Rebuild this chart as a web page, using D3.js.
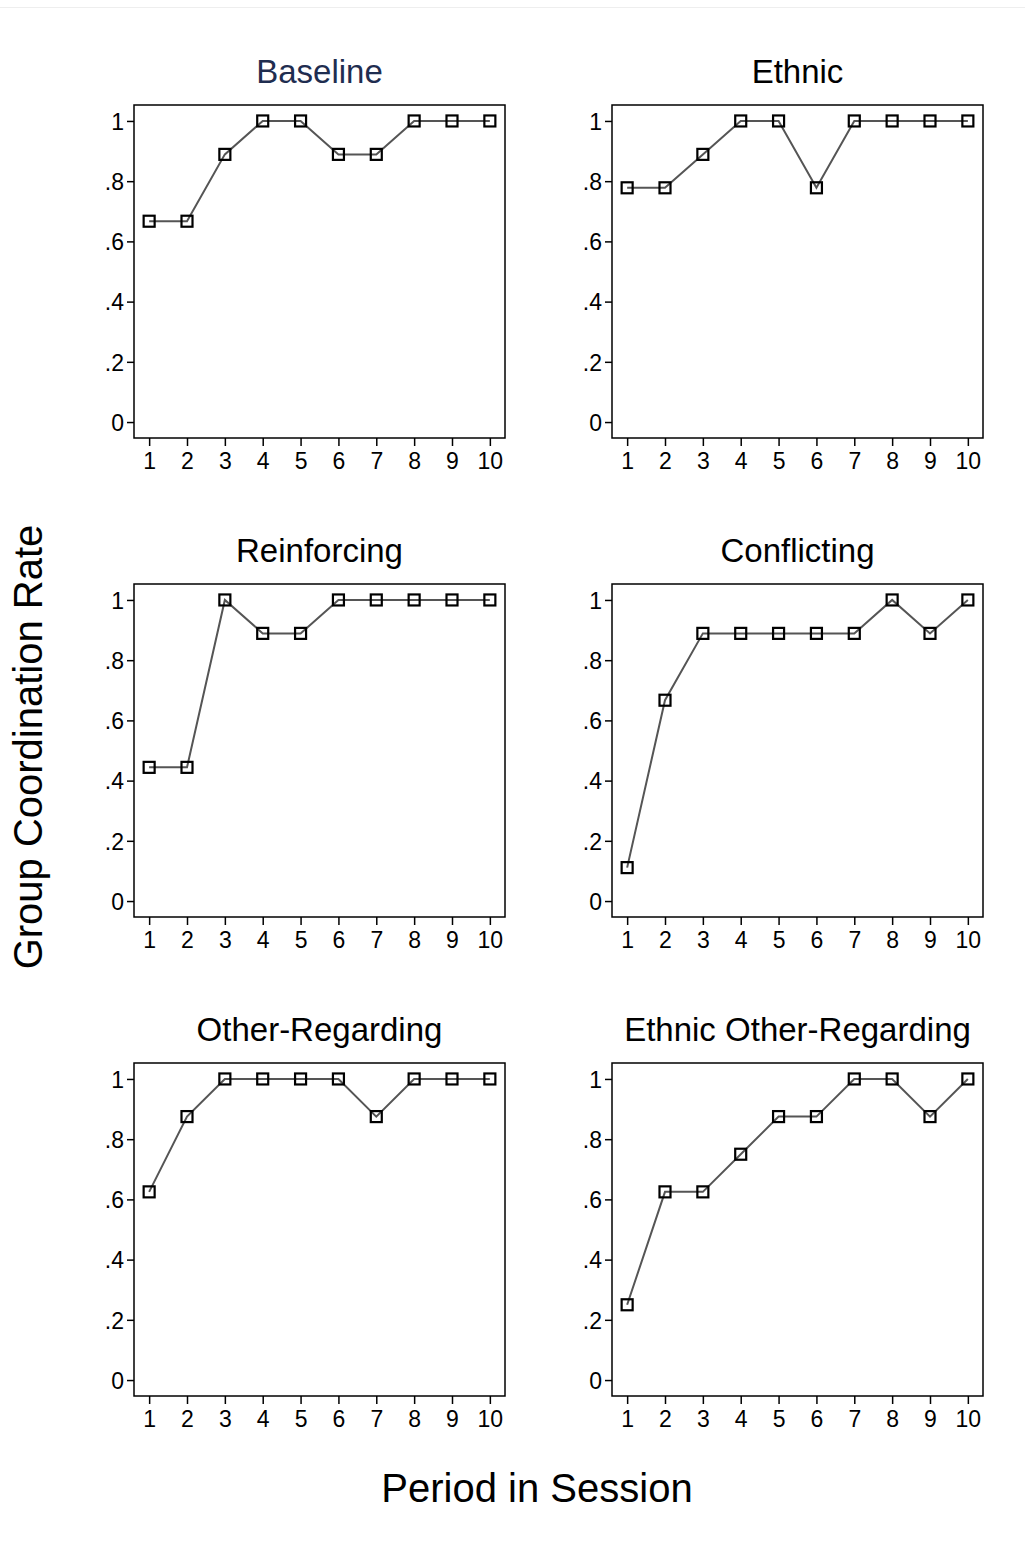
<!DOCTYPE html>
<html>
<head>
<meta charset="utf-8">
<script src="https://cdn.jsdelivr.net/npm/d3@7"></script>
<style>
	body { margin: 0; background: #fff; }
	svg text { font-family: Arial, "Liberation Sans", sans-serif; }
</style>
</head>
<body>
<svg id="chart"></svg>
<script>
	var periods = [1, 2, 3, 4, 5, 6, 7, 8, 9, 10],
		yTicks = [0, 0.2, 0.4, 0.6, 0.8, 1],
		panelTitles = ['Baseline', 'Ethnic', 'Reinforcing', 'Conflicting', 'Other-Regarding', 'Ethnic Other-Regarding'];

	// Group coordination rate per period, one array per treatment
	var baseline = [0.667, 0.667, 0.889, 1, 1, 0.889, 0.889, 1, 1, 1],
		ethnic = [0.778, 0.778, 0.889, 1, 1, 0.778, 1, 1, 1, 1],
		reinforcing = [0.444, 0.444, 1, 0.889, 0.889, 1, 1, 1, 1, 1],
		conflicting = [0.111, 0.667, 0.889, 0.889, 0.889, 0.889, 0.889, 1, 0.889, 1],
		otherRegarding = [0.625, 0.875, 1, 1, 1, 1, 0.875, 1, 1, 1],
		ethnicOtherRegarding = [0.25, 0.625, 0.625, 0.75, 0.875, 0.875, 1, 1, 0.875, 1];

	var series = [baseline, ethnic, reinforcing, conflicting, otherRegarding, ethnicOtherRegarding];

	var width = 1025,
		height = 1543,
		colLeft = [134, 612],
		rowTop = [105, 584, 1063],
		boxW = 371,
		boxH = 333,
		mk = 11,
		i;

	var svg = d3.select('#chart')
		.attr('width', width)
		.attr('height', height);

	// faint page edge at top
	svg.append('line')
		.attr('x1', 0).attr('x2', width)
		.attr('y1', 7.5).attr('y2', 7.5)
		.style('stroke', '#eeeeee')
		.style('stroke-width', 1);

	var x = d3.scaleLinear().domain([0.6, 10.4]).range([0, boxW]),
		y = d3.scaleLinear().domain([-0.053, 1.053]).range([boxH, 0]);

	var fmt = function (d) {
		return d === 0 || d === 1 ? String(d) : d3.format('.1f')(d).replace(/^0/, '');
	};

	var line = d3.line()
		.x(function (d, j) { return x(periods[j]); })
		.y(function (d) { return y(d); });

	for (i = 0; i < series.length; i++) {
		var g = svg.append('g')
			.attr('transform', 'translate(' + colLeft[i % 2] + ',' + rowTop[Math.floor(i / 2)] + ')');

		g.append('text')
			.attr('x', boxW / 2)
			.attr('y', -22)
			.attr('text-anchor', 'middle')
			.style('font-size', '33px')
			.style('fill', i === 0 ? '#1f2d50' : '#000')
			.text(panelTitles[i]);

		var yAxis = g.append('g')
			.call(d3.axisLeft(y).tickValues(yTicks).tickFormat(fmt).tickSize(7).tickPadding(3));
		var xAxis = g.append('g')
			.attr('transform', 'translate(0,' + boxH + ')')
			.call(d3.axisBottom(x).tickValues(periods).tickSize(8).tickPadding(7));

		[yAxis, xAxis].forEach(function (a) {
			a.attr('font-size', 23).attr('font-family', 'Arial, "Liberation Sans", sans-serif');
			a.select('.domain').remove();
			a.selectAll('line').style('stroke', '#000').style('stroke-width', 1.5);
			a.selectAll('text')
				.style('font-size', '23px')
				.style('fill', '#000');
		});
		yAxis.selectAll('text').attr('dy', '0.36em');

		g.append('rect')
			.attr('width', boxW)
			.attr('height', boxH)
			.style('fill', 'none')
			.style('stroke', '#000')
			.style('stroke-width', 1.5);

		g.append('path')
			.datum(series[i])
			.attr('d', line)
			.style('fill', 'none')
			.style('stroke', '#555')
			.style('stroke-width', 2);

		g.selectAll('.marker')
			.data(series[i]).enter()
			.append('rect')
				.attr('class', 'marker')
				.attr('x', function (d, j) { return x(periods[j]) - mk / 2; })
				.attr('y', function (d) { return y(d) - mk / 2; })
				.attr('width', mk)
				.attr('height', mk)
				.style('fill', 'none')
				.style('stroke', '#000')
				.style('stroke-width', 2.2);
	}

	svg.append('text')
		.attr('transform', 'translate(42,747) rotate(-90)')
		.attr('text-anchor', 'middle')
		.style('font-size', '40px')
		.text('Group Coordination Rate');

	svg.append('text')
		.attr('x', 537)
		.attr('y', 1502)
		.attr('text-anchor', 'middle')
		.style('font-size', '40px')
		.text('Period in Session');
</script>
</body>
</html>
